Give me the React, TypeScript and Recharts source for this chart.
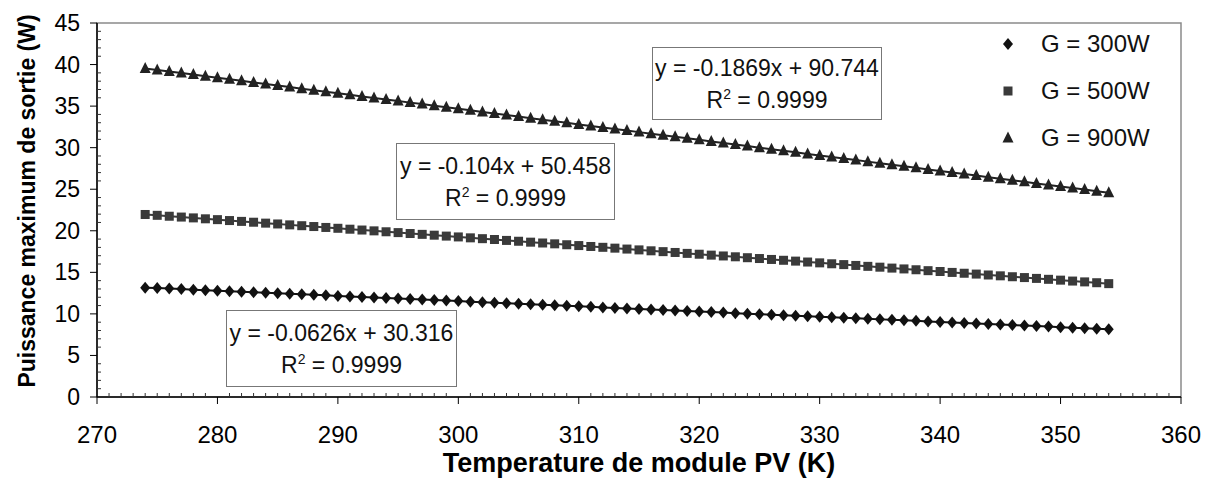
import { Legend, ReferenceArea, Scatter, ScatterChart, XAxis, YAxis } from "recharts";

const temperatures = [
  274, 275, 276, 277, 278, 279, 280, 281, 282, 283, 284, 285, 286, 287, 288, 289, 290,
  291, 292, 293, 294, 295, 296, 297, 298, 299, 300, 301, 302, 303, 304, 305, 306, 307,
  308, 309, 310, 311, 312, 313, 314, 315, 316, 317, 318, 319, 320, 321, 322, 323, 324,
  325, 326, 327, 328, 329, 330, 331, 332, 333, 334, 335, 336, 337, 338, 339, 340, 341,
  342, 343, 344, 345, 346, 347, 348, 349, 350, 351, 352, 353, 354,
];

const power300 = [
  13.16, 13.1, 13.04, 12.98, 12.91, 12.85, 12.79, 12.73, 12.66, 12.6, 12.54, 12.48, 12.41,
  12.35, 12.29, 12.23, 12.16, 12.1, 12.04, 11.97, 11.91, 11.85, 11.79, 11.72, 11.66, 11.6,
  11.54, 11.47, 11.41, 11.35, 11.29, 11.22, 11.16, 11.1, 11.03, 10.97, 10.91, 10.85, 10.78,
  10.72, 10.66, 10.6, 10.53, 10.47, 10.41, 10.35, 10.28, 10.22, 10.16, 10.09, 10.03, 9.97,
  9.91, 9.84, 9.78, 9.72, 9.66, 9.59, 9.53, 9.47, 9.41, 9.34, 9.28, 9.22, 9.16, 9.09, 9.03,
  8.97, 8.91, 8.84, 8.78, 8.72, 8.65, 8.59, 8.53, 8.47, 8.4, 8.34, 8.28, 8.22, 8.16,
];

const power500 = [
  21.96, 21.86, 21.75, 21.65, 21.55, 21.44, 21.34, 21.23, 21.13, 21.03, 20.92, 20.82, 20.71,
  20.61, 20.51, 20.4, 20.3, 20.19, 20.09, 19.99, 19.88, 19.78, 19.67, 19.57, 19.47, 19.36,
  19.26, 19.15, 19.05, 18.95, 18.84, 18.74, 18.63, 18.53, 18.43, 18.32, 18.22, 18.11, 18.01,
  17.91, 17.8, 17.7, 17.59, 17.49, 17.39, 17.28, 17.18, 17.07, 16.97, 16.87, 16.76, 16.66,
  16.55, 16.45, 16.35, 16.24, 16.14, 16.03, 15.93, 15.83, 15.72, 15.62, 15.51, 15.41, 15.31,
  15.2, 15.1, 14.99, 14.89, 14.79, 14.68, 14.58, 14.47, 14.37, 14.27, 14.16, 14.06, 13.95,
  13.85, 13.75, 13.64,
];

const power900 = [
  39.53, 39.35, 39.16, 38.97, 38.79, 38.6, 38.41, 38.23, 38.04, 37.85, 37.66, 37.48, 37.29,
  37.1, 36.92, 36.73, 36.54, 36.36, 36.17, 35.98, 35.8, 35.61, 35.42, 35.24, 35.05, 34.86,
  34.67, 34.49, 34.3, 34.11, 33.93, 33.74, 33.55, 33.37, 33.18, 32.99, 32.8, 32.62, 32.43,
  32.24, 32.06, 31.87, 31.68, 31.5, 31.31, 31.12, 30.94, 30.75, 30.56, 30.38, 30.19, 30.0,
  29.81, 29.63, 29.44, 29.25, 29.07, 28.88, 28.69, 28.51, 28.32, 28.13, 27.94, 27.76, 27.57,
  27.38, 27.2, 27.01, 26.82, 26.64, 26.45, 26.26, 26.08, 25.89, 25.7, 25.52, 25.33, 25.14,
  24.96, 24.77, 24.58,
];

const xTickLabels = [270, 280, 290, 300, 310, 320, 330, 340, 350, 360];
const yTickLabels = [0, 5, 10, 15, 20, 25, 30, 35, 40, 45];
const seriesNames = ["G = 300W", "G = 500W", "G = 900W"];
const equations = ["y = -0.0626x + 30.316", "y = -0.104x + 50.458", "y = -0.1869x + 90.744"];
const rSquared = ["0.9999", "0.9999", "0.9999"];

const FONT = '"Liberation Sans", Arial, Helvetica, sans-serif';

// minor tick marks every unit, labels only on the major ones
const minorX: number[] = [];
for (let t = xTickLabels[0]; t <= xTickLabels[xTickLabels.length - 1]; t++) minorX.push(t);
const minorY: number[] = [];
for (let t = yTickLabels[0]; t <= yTickLabels[yTickLabels.length - 1]; t++) minorY.push(t);

const toPoints = (values: number[]) => temperatures.map((x, i) => ({ x, y: values[i] }));

function Diamond({ cx, cy, fill }: any) {
  return <polygon points={`${cx},${cy - 6} ${cx + 5},${cy} ${cx},${cy + 6} ${cx - 5},${cy}`} fill={fill} />;
}

function Square({ cx, cy, fill }: any) {
  return <rect x={cx - 4.5} y={cy - 4.5} width={9} height={9} fill={fill} />;
}

function Triangle({ cx, cy, fill }: any) {
  return <polygon points={`${cx},${cy - 6.5} ${cx + 5.5},${cy + 4.5} ${cx - 5.5},${cy + 4.5}`} fill={fill} />;
}

const series = [
  { name: seriesNames[0], data: toPoints(power300), color: "#111", Shape: Diamond },
  { name: seriesNames[1], data: toPoints(power500), color: "#3a3a3a", Shape: Square },
  { name: seriesNames[2], data: toPoints(power900), color: "#222", Shape: Triangle },
];

function XTick({ x, y, payload }: any) {
  const major = xTickLabels.includes(payload.value);
  return (
    <g>
      {major ? (
        <line x1={x} y1={y} x2={x} y2={y + 7} stroke="#000" />
      ) : (
        <line x1={x} y1={y} x2={x} y2={y - 4} stroke="#333" />
      )}
      {major && (
        <text x={x} y={y + 46} textAnchor="middle" fontSize={24} fontFamily={FONT} fill="#000">
          {payload.value}
        </text>
      )}
    </g>
  );
}

function YTick({ x, y, payload }: any) {
  const major = yTickLabels.includes(payload.value);
  return (
    <g>
      {major ? (
        <line x1={x - 7} y1={y} x2={x} y2={y} stroke="#000" />
      ) : (
        <line x1={x} y1={y} x2={x + 4} y2={y} stroke="#333" />
      )}
      {major && (
        <text x={x - 17} y={y + 8} textAnchor="end" fontSize={23} fontFamily={FONT} fill="#000">
          {payload.value}
        </text>
      )}
    </g>
  );
}

function YTitle() {
  return (
    <text
      transform="rotate(-90)"
      x={-201}
      y={35}
      textAnchor="middle"
      fontSize={23}
      fontWeight={700}
      fontFamily={FONT}
      fill="#000"
    >
      Puissance maximum de sortie (W)
    </text>
  );
}

function XTitle() {
  return (
    <text x={639} y={472} textAnchor="middle" fontSize={27} fontWeight={700} fontFamily={FONT} fill="#000">
      Temperature de module PV (K)
    </text>
  );
}

function LegendBox() {
  return (
    <div style={{ fontFamily: FONT, fontSize: 24, color: "#111" }}>
      {series.map((s) => (
        <div key={s.name} style={{ height: 47, display: "flex", alignItems: "center" }}>
          <svg width={20} height={20}>
            <s.Shape cx={10} cy={10} fill={s.color} />
          </svg>
          <span style={{ marginLeft: 23, whiteSpace: "nowrap" }}>{s.name}</span>
        </div>
      ))}
    </div>
  );
}

const boxes = [
  { left: 226, top: 310, width: 231, height: 77 },
  { left: 396, top: 143, width: 219, height: 77 },
  { left: 652, top: 47, width: 230, height: 73 },
];

export default function App() {
  return (
    <div style={{ position: "absolute", left: 0, top: 0, width: 1206, height: 479, background: "#fff" }}>
      <ScatterChart width={1206} height={479} margin={{ top: 23, right: 25, bottom: 0, left: 0 }}>
        <ReferenceArea x1={270} x2={360} y1={0} y2={45} fill="none" stroke="#8a8a8a" strokeWidth={1.5} />
        <XAxis
          type="number"
          dataKey="x"
          domain={[270, 360]}
          ticks={minorX}
          interval={0}
          height={82}
          tickSize={0}
          tickMargin={0}
          tick={<XTick />}
          tickLine={false}
          axisLine={{ stroke: "#000", strokeWidth: 1.5 }}
          label={{ content: () => <XTitle /> }}
        />
        <YAxis
          type="number"
          dataKey="y"
          domain={[0, 45]}
          ticks={minorY}
          interval={0}
          width={97}
          tickSize={0}
          tickMargin={0}
          tick={<YTick />}
          tickLine={false}
          axisLine={{ stroke: "#000", strokeWidth: 1.5 }}
          label={{ content: () => <YTitle /> }}
        />
        {series.map((s) => (
          <Scatter
            key={s.name}
            name={s.name}
            data={s.data}
            fill={s.color}
            line={{ stroke: s.color, strokeWidth: 2 }}
            shape={(p: any) => <s.Shape cx={p.cx} cy={p.cy} fill={s.color} />}
            isAnimationActive={false}
          />
        ))}
        <Legend
          layout="horizontal"
          verticalAlign="middle"
          align="center"
          content={() => <LegendBox />}
          wrapperStyle={{ top: 20, left: 998, width: 190, height: 150 }}
        />
      </ScatterChart>
      {boxes.map((b, i) => (
        <div
          key={i}
          style={{
            position: "absolute",
            left: b.left,
            top: b.top,
            width: b.width,
            height: b.height,
            boxSizing: "border-box",
            border: "1.5px solid #777",
            background: "#fff",
            display: "flex",
            flexDirection: "column",
            justifyContent: "center",
            alignItems: "center",
            fontFamily: FONT,
            fontSize: 23,
            lineHeight: "32px",
            color: "#111",
            whiteSpace: "nowrap",
          }}
        >
          <div>{equations[i]}</div>
          <div>
            R<sup style={{ fontSize: 14, lineHeight: 0 }}>2</sup> = {rSquared[i]}
          </div>
        </div>
      ))}
    </div>
  );
}
